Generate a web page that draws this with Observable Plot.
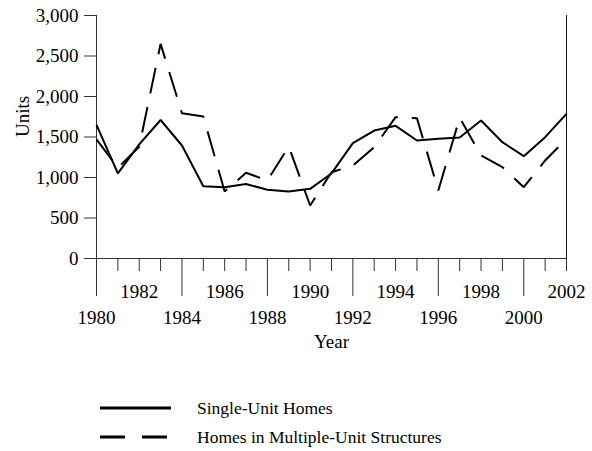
<!DOCTYPE html>
<html>
<head>
<meta charset="utf-8">
<script src="https://cdn.jsdelivr.net/npm/d3@7"></script>
<script src="https://cdn.jsdelivr.net/npm/@observablehq/plot@0.6"></script>
<style>
  html, body { margin: 0; padding: 0; background: white; }
  #wrap { position: relative; width: 592px; height: 451px; font-family: "Liberation Serif", "Times New Roman", serif; color: black; }
  #legend { position: absolute; left: 0; top: 0; width: 592px; }
  .row { position: absolute; left: 100px; display: flex; align-items: center; font-size: 17.5px; }
  .row svg { display: block; }
  .row span { margin-left: 26px; white-space: nowrap; }
</style>
</head>
<body>
<div id="wrap"><div id="chart"></div><div id="legend"></div></div>
<script>
// Data
const years = [1980, 1981, 1982, 1983, 1984, 1985, 1986, 1987, 1988, 1989, 1990, 1991,
               1992, 1993, 1994, 1995, 1996, 1997, 1998, 1999, 2000, 2001, 2002];
const singleUnit = [1650, 1050, 1410, 1710, 1395, 893, 880, 920, 848, 827, 860, 1050,
                    1424, 1580, 1638, 1457, 1477, 1494, 1704, 1436, 1263, 1498, 1786];
const multiUnit = [1470, 1120, 1380, 2650, 1794, 1753, 827, 1058, 963, 1383, 654, 1065,
                   1148, 1374, 1745, 1732, 840, 1737, 1272, 1128, 880, 1210, 1477];
const yTicks = [0, 500, 1000, 1500, 2000, 2500, 3000];
const majorYears = [1980, 1984, 1988, 1992, 1996, 2000];
const minorYears = [1981, 1982, 1983, 1985, 1986, 1987, 1989, 1990, 1991, 1993, 1994, 1995,
                    1997, 1998, 1999, 2001, 2002];
const minorLabeled = [1982, 1986, 1990, 1994, 1998, 2002];
const seriesNames = ["Single-Unit Homes", "Homes in Multiple-Unit Structures"];

const font = "'Liberation Serif', 'Times New Roman', serif";

const chart = Plot.plot({
  width: 592,
  height: 360,
  marginLeft: 96,
  marginRight: 26,
  marginTop: 15,
  marginBottom: 102,
  style: { fontFamily: font, fontSize: "19px", color: "black", background: "white" },
  x: { domain: [1980, 2002] },
  y: { domain: [0, 3000] },
  marks: [
    Plot.ruleX([1980], { stroke: "#333" }),
    Plot.ruleX([2002], { stroke: "#111" }),
    Plot.ruleY([0], { stroke: "#333" }),
    Plot.axisY({ ticks: yTicks, tickSize: 12, tickPadding: 6, stroke: "#333", fontSize: 19,
                 tickFormat: d => d.toLocaleString("en-US"), label: null }),
    Plot.axisX({ ticks: majorYears, tickSize: 38, tickPadding: 14, stroke: "#333", fontSize: 19,
                 tickFormat: d => String(d), label: null }),
    Plot.axisX({ ticks: minorYears, tickSize: 13, tickPadding: 13, stroke: "#333", fontSize: 19,
                 tickFormat: d => minorLabeled.includes(d) ? String(d) : "", label: null }),
    Plot.line(singleUnit, { x: (d, i) => years[i], y: d => d, stroke: "black", strokeWidth: 2,
                            strokeLinejoin: "miter", strokeLinecap: "butt" }),
    Plot.line(multiUnit, { x: (d, i) => years[i], y: d => d, stroke: "black", strokeWidth: 2,
                           strokeDasharray: "26,14", strokeLinejoin: "miter", strokeLinecap: "butt" }),
    Plot.text(["Units"], { frameAnchor: "left", dx: -74, rotate: -90, fontSize: 19 }),
    Plot.text(["Year"], { frameAnchor: "bottom", dy: 89, fontSize: 19 })
  ]
});
document.getElementById("chart").appendChild(chart);

// Legend below the plot
const legend = document.getElementById("legend");
const rowsTop = [408, 437];
const dashes = [null, "25,17"];
seriesNames.forEach((name, i) => {
  const row = document.createElement("div");
  row.className = "row";
  row.style.top = (rowsTop[i] - 12) + "px";
  row.style.height = "24px";
  const ns = "http://www.w3.org/2000/svg";
  const s = document.createElementNS(ns, "svg");
  s.setAttribute("width", 71); s.setAttribute("height", 24);
  const l = document.createElementNS(ns, "line");
  l.setAttribute("x1", 0); l.setAttribute("x2", 71);
  l.setAttribute("y1", 12); l.setAttribute("y2", 12);
  l.setAttribute("stroke", "black"); l.setAttribute("stroke-width", 3);
  if (dashes[i]) l.setAttribute("stroke-dasharray", dashes[i]);
  s.appendChild(l);
  row.appendChild(s);
  const t = document.createElement("span");
  t.textContent = name;
  row.appendChild(t);
  legend.appendChild(row);
});
</script>
</body>
</html>
